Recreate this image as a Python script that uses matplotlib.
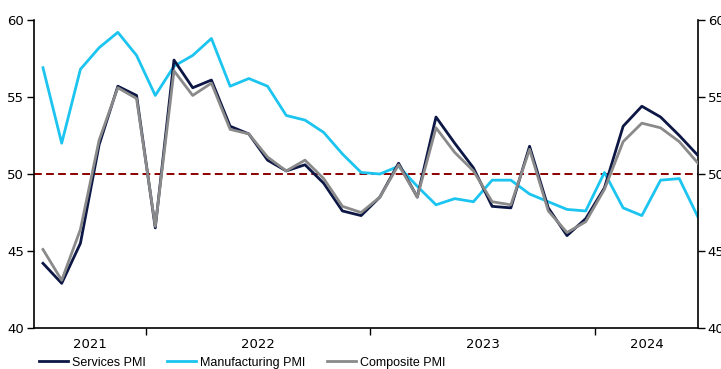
import matplotlib
matplotlib.use("Agg")
from matplotlib import pyplot as plt
from matplotlib.ticker import FixedLocator, NullFormatter
import numpy as np

# monthly readings, Jul 2021 - Jun 2024
years = [2021, 2022, 2023, 2024]
months_per_year = [6, 12, 12, 6]

services = [44.2, 42.9, 45.5, 51.9, 55.7, 55.1, 46.5, 57.4, 55.6, 56.1, 53.1, 52.6,
            50.9, 50.2, 50.6, 49.4, 47.6, 47.3, 48.5, 50.7, 48.5, 53.7, 52.0, 50.4,
            47.9, 47.8, 51.8, 47.8, 46.0, 47.1, 49.1, 53.1, 54.4, 53.7, 52.5, 51.2]
manufacturing = [56.9, 52.0, 56.8, 58.2, 59.2, 57.7, 55.1, 57.0, 57.7, 58.8, 55.7, 56.2,
                 55.7, 53.8, 53.5, 52.7, 51.3, 50.1, 50.0, 50.5, 49.2, 48.0, 48.4, 48.2,
                 49.6, 49.6, 48.7, 48.2, 47.7, 47.6, 50.1, 47.8, 47.3, 49.6, 49.7, 47.2]
composite = [45.1, 43.1, 46.4, 52.2, 55.6, 54.9, 46.6, 56.7, 55.1, 55.9, 52.9, 52.6,
             51.1, 50.2, 50.9, 49.7, 47.9, 47.5, 48.5, 50.6, 48.5, 53.0, 51.4, 50.2,
             48.2, 48.0, 51.6, 47.6, 46.2, 46.9, 49.0, 52.1, 53.3, 53.0, 52.1, 50.7]

x = np.arange(len(services))
xmin, xmax = -0.48, 35.0

fig = plt.figure(figsize=(7.21, 3.69), dpi=100, facecolor="white")
ax = fig.add_axes([34 / 721, 1 - 328 / 369, 664 / 721, 308 / 369])

ax.axhline(50, color="#8b0000", lw=1.4, ls=(0, (4, 2.2)), zorder=1)
ax.plot(x, services, color="#0c1745", lw=2.0, label="Services PMI", zorder=3)
ax.plot(x, manufacturing, color="#1cc4f0", lw=2.0, label="Manufacturing PMI", zorder=2)
ax.plot(x, composite, color="#8a8a8a", lw=2.0, label="Composite PMI", zorder=4)

ax.set_xlim(xmin, xmax)
ax.set_ylim(40, 60)
ax.set_yticks([40, 45, 50, 55, 60])

# year separators as ticks, year labels centred in each span
edges = np.cumsum(months_per_year)[:-1] - 0.5
bounds = [xmin] + list(edges) + [xmax]
centres = [(bounds[k] + bounds[k + 1]) / 2 for k in range(len(years))]
ax.set_xticks(centres)
ax.set_xticklabels([str(y) for y in years])
ax.xaxis.set_minor_locator(FixedLocator(edges))
ax.xaxis.set_minor_formatter(NullFormatter())
ax.tick_params(axis="x", which="major", length=0, pad=7, labelsize=9.5)
ax.tick_params(axis="x", which="minor", length=5, width=1, direction="out")
ax.tick_params(axis="y", length=5, width=1, direction="out", labelsize=9.5,
               left=True, right=True, labelleft=True, labelright=True, pad=2)

ax.spines["top"].set_visible(False)
for s in ["left", "right", "bottom"]:
    ax.spines[s].set_linewidth(1.2)
    ax.spines[s].set_color("black")

fig.legend(loc="lower left", bbox_to_anchor=(28 / 721, -0.030), ncol=3, frameon=False,
           prop={"family": "Liberation Sans", "size": 9}, handlelength=2.3,
           handletextpad=0.35, columnspacing=1.7)

fig.savefig("out.png", dpi=100, facecolor="white")
